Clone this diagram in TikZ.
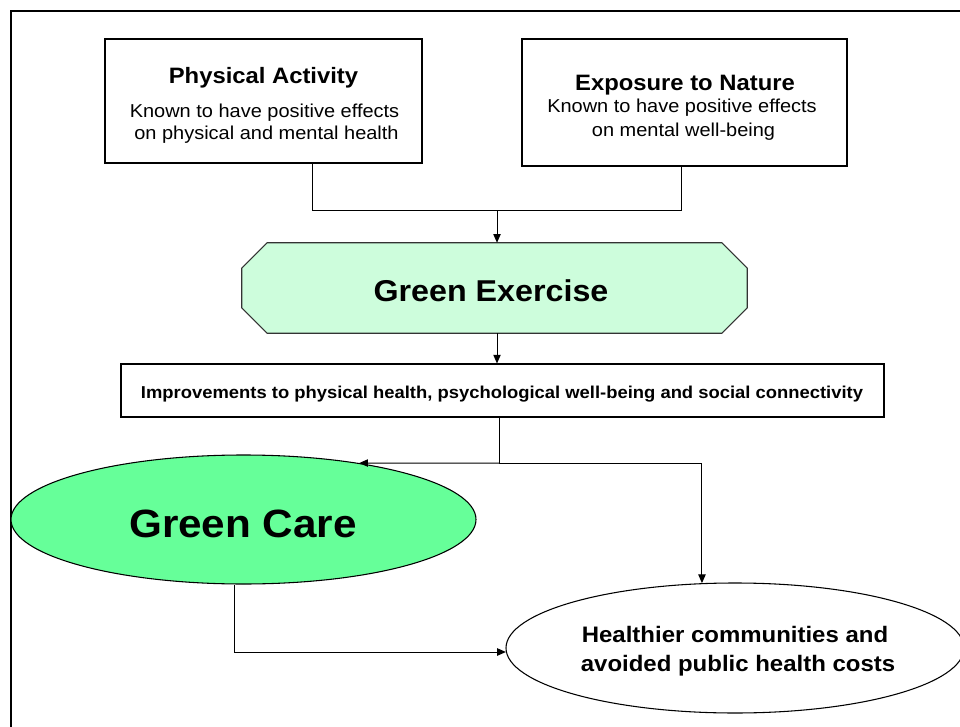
\documentclass[tikz,border=0pt]{standalone}
\usepackage{fontspec}
\setmainfont{Liberation Sans}[FakeStretch=1.07]
\usetikzlibrary{arrows.meta,shapes.geometric}
\pgfdeclarelayer{background}
\pgfsetlayers{background,main}
\definecolor{mintfill}{RGB}{205,253,220}
\definecolor{carefill}{RGB}{102,255,153}
\tikzset{
  boxnode/.style={draw, line width=0.8pt, inner sep=0pt, rectangle},
  ellnode/.style={draw, line width=0.8pt, inner sep=0pt, ellipse},
  txt/.style={inner sep=0pt, anchor=base},
  conn/.style={line width=0.75pt},
  arr/.style={line width=0.75pt, -{Triangle[length=6.5pt,width=5.5pt]}},
}
\begin{document}
\begin{tikzpicture}[x=0.75pt,y=-0.75pt]
\useasboundingbox (0,0) rectangle (960,727);
% outer frame (cut off at right and bottom)
\draw[line width=0.9pt] (11,740) -- (11,11) -- (975,11);

% top boxes
\node[boxnode, minimum width=237.75pt, minimum height=93pt] (pa) at (263.5,101) {};
\node[boxnode, minimum width=243.75pt, minimum height=95.25pt] (en) at (684.5,102.5) {};
\node[txt, font=\bfseries\fontsize{16.7}{19}\selectfont] (pat) at (263.5,84) {Physical Activity};
\node[txt, font=\fontsize{14}{16}\selectfont] (pa1) at (264.5,117.5) {Known to have positive effects};
\node[txt, font=\fontsize{14}{16}\selectfont] (pa2) at (266.5,140) {on physical and mental health};
\node[txt, font=\bfseries\fontsize{16.7}{19}\selectfont] (ent) at (685,91) {Exposure to Nature};
\node[txt, font=\fontsize{14}{16}\selectfont] (en1) at (682,113) {Known to have positive effects};
\node[txt, font=\fontsize{14}{16}\selectfont] (en2) at (683.5,137) {on mental well-being};

% green exercise
\node[inner sep=0pt, minimum width=378.75pt, minimum height=67.5pt] (ge) at (494.5,288) {};
\begin{pgfonlayer}{background}
\draw[line width=0.8pt, draw=black!80, fill=mintfill]
  ([xshift=19pt]ge.north west) -- ([xshift=-19pt]ge.north east)
  -- ([yshift=-19pt]ge.north east) -- ([yshift=19pt]ge.south east)
  -- ([xshift=-19pt]ge.south east) -- ([xshift=19pt]ge.south west)
  -- ([yshift=19pt]ge.south west) -- ([yshift=-19pt]ge.north west) -- cycle;
\end{pgfonlayer}
\node[txt, font=\bfseries\fontsize{22.6}{26}\selectfont] (get) at (491,301) {Green Exercise};

% improvements
\node[boxnode, minimum width=572.25pt, minimum height=39.75pt] (imp) at (502.5,390.5) {};
\node[txt, font=\bfseries\fontsize{12.9}{15}\selectfont] (impt) at (502,398) {Improvements to physical health, psychological well-being and social connectivity};

% green care
\node[ellnode, fill=carefill, minimum width=348.75pt, minimum height=96.75pt] (gc) at (243.5,519.5) {};
\node[txt, font=\bfseries\fontsize{29.6}{34}\selectfont] (gct) at (243,537) {Green Care};

% healthier communities
\node[ellnode, minimum width=343.5pt, minimum height=97.5pt] (hc) at (735,648) {};
\node[txt, font=\bfseries\fontsize{16.8}{19}\selectfont] (hc1) at (735,642.5) {Healthier communities and};
\node[txt, font=\bfseries\fontsize{16.8}{19}\selectfont] (hc2) at (738,671.5) {avoided public health costs};

% connectors
\coordinate (top) at (497,211);
\draw[conn] ([xshift=36.4pt]pa.south) |- (top);
\draw[conn] ([xshift=-2.6pt]en.south) |- (top);
\draw[arr] (top) -- (top |- ge.north);
\draw[arr] (ge.south -| top) -- (top |- imp.north);
\coordinate (jn) at (499,463);
\draw[conn] (imp.south -| jn) -- (jn);
\draw[arr] (jn) -- (gc.26);
\draw[arr] (jn) -| (hc.117);
\draw[arr] ([xshift=-7pt]gc.south) |- (hc.181);
\end{tikzpicture}
\end{document}
